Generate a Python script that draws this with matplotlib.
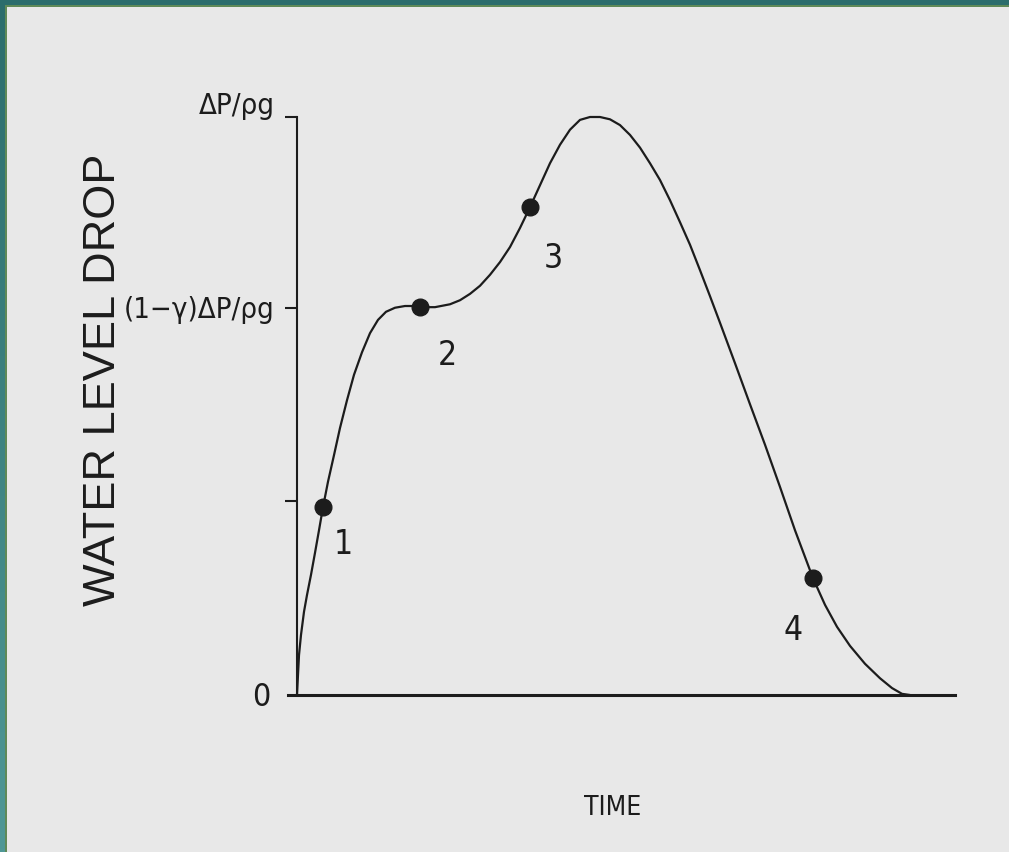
import numpy as np
import matplotlib
matplotlib.use("Agg")
import matplotlib.pyplot as plt
from matplotlib.patches import Rectangle
from matplotlib.colors import LinearSegmentedColormap

# ---- data (time in arbitrary units, level as fraction of ΔP/ρg) ----
time = [0.0, 0.1, 0.2, 0.4, 0.7, 1.0, 1.4, 1.8, 2.2, 2.6, 3.1, 3.7, 4.3, 5.0, 5.7,
        6.5, 7.3, 8.1, 8.9, 9.8, 10.8, 11.5, 12.3, 13.8, 15.3, 16.3, 17.3, 18.3,
        19.3, 20.3, 21.3, 22.3, 23.3, 24.3, 25.3, 26.3, 27.3, 28.3, 29.3, 30.3,
        31.3, 32.3, 33.3, 34.3, 35.3, 36.3, 37.3, 38.3, 39.3, 40.3, 41.3, 42.3,
        43.8, 45.3, 46.8, 48.3, 49.8, 51.6, 52.8, 54.0, 55.3, 56.8, 58.3, 59.5,
        60.5, 61.3]
level = [0.0, 0.035, 0.069, 0.104, 0.144, 0.173, 0.208, 0.246, 0.285, 0.325, 0.369,
         0.415, 0.462, 0.510, 0.554, 0.593, 0.626, 0.649, 0.663, 0.670, 0.673, 0.673,
         0.671, 0.671, 0.676, 0.683, 0.694, 0.708, 0.727, 0.749, 0.775, 0.808, 0.844,
         0.882, 0.920, 0.952, 0.978, 0.995, 1.0, 1.0, 0.996, 0.986, 0.969, 0.947,
         0.920, 0.891, 0.856, 0.818, 0.779, 0.735, 0.690, 0.644, 0.574, 0.503, 0.433,
         0.360, 0.285, 0.202, 0.156, 0.118, 0.085, 0.054, 0.029, 0.012, 0.002, 0.0]

marker_time = [2.6, 12.3, 23.3, 51.6]
marker_level = [0.325, 0.671, 0.844, 0.202]
marker_labels = ["1", "2", "3", "4"]
label_time = [4.6, 15.0, 25.6, 49.6]
label_level = [0.26, 0.588, 0.756, 0.112]

ytick_values = [0.335, 0.67, 1.0]
ylabel_values = [0.0, 0.67, 1.0]
ylabel_texts = ["0", "(1\u2212\u03b3)\u0394P/\u03c1g", "\u0394P/\u03c1g"]

x_axis_start, x_axis_end = -0.9, 65.8

ink = "#1c1c1c"
paper = "#e8e8e8"
cond = ["DejaVu Sans"]
regular = ["Liberation Sans", "DejaVu Sans"]

W, H = 1009, 852
fig = plt.figure(figsize=(W / 100, H / 100), dpi=100, facecolor=paper)

# scan border (teal frame on top and left)
gax = fig.add_axes([0, 0, 6 / W, 1])
grad = np.linspace(0, 1, 256).reshape(-1, 1)
cm = LinearSegmentedColormap.from_list("teal", ["#2b6d6c", "#4f9896"])
gax.imshow(grad, aspect="auto", cmap=cm, origin="upper")
gax.set_axis_off()
fig.add_artist(Rectangle((5 / W, 0), 2 / W, 1, transform=fig.transFigure,
                         color="#5f8a58", lw=0))
fig.add_artist(Rectangle((0, 1 - 5 / H), 1, 5 / H, transform=fig.transFigure,
                         color="#2b6d6c", lw=0))
fig.add_artist(Rectangle((5 / W, 1 - 7 / H), 1, 2 / H, transform=fig.transFigure,
                         color="#5f8a58", lw=0))

# main axes: pixel box x 280..960, y 100..700
ax = fig.add_axes([280 / W, (H - 700) / H, 680 / W, 600 / H])
ax.set_facecolor("none")
ax.set_xlim(-1.7, 66.3)
ax.set_ylim(-5 / 578, 595 / 578)

for s in ["top", "right"]:
    ax.spines[s].set_visible(False)
ax.spines["left"].set_position(("data", 0))
ax.spines["left"].set_bounds(0, 1.0)
ax.spines["left"].set_linewidth(1.5)
ax.spines["left"].set_color(ink)
ax.spines["bottom"].set_position(("data", 0))
ax.spines["bottom"].set_bounds(x_axis_start, x_axis_end)
ax.spines["bottom"].set_linewidth(2.2)
ax.spines["bottom"].set_color(ink)

ax.set_xticks([])
ax.set_yticks(ytick_values)
ax.tick_params(axis="y", direction="out", length=9, width=1.5, color=ink,
               labelleft=False)

label_sizes = [23, 21, 21]
offsets = [(-19.5, -1.5), (-16, -1.5), (-16, 8)]
for val, txt, (dx, dy), fs in zip(ylabel_values, ylabel_texts, offsets, label_sizes):
    ax.annotate(txt, xy=(0, val), xytext=(dx, dy), textcoords="offset points",
                ha="right", va="center", fontsize=fs, family=cond,
                fontstretch="condensed", color=ink)

ax.plot(marker_time, marker_level, "o", color=ink, ms=12, zorder=4)
ax.plot(time, level, color=ink, lw=1.6, solid_capstyle="round",
        solid_joinstyle="round", zorder=3)
for t, l, s in zip(label_time, label_level, marker_labels):
    ax.text(t, l, s, ha="center", va="center", fontsize=24, family=cond,
            fontstretch="condensed", color=ink)

fig.text(104 / W, 1 - 380 / H, "WATER LEVEL DROP", rotation=90, ha="center",
         va="center", fontsize=32.5, family=regular, color=ink)
fig.text(613 / W, 1 - 808 / H, "TIME", ha="center", va="center", fontsize=19,
         family=cond, fontstretch="condensed", color=ink)

fig.savefig("out.png", dpi=100, facecolor=paper)
